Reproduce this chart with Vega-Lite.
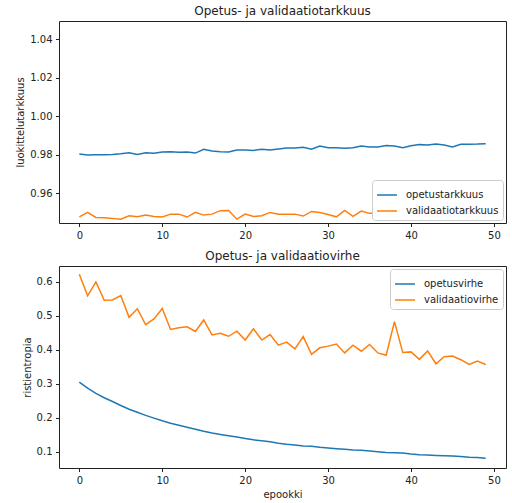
{
  "$schema": "https://vega.github.io/schema/vega-lite/v6.json",
  "padding": {"left": 15, "top": 4, "right": 5, "bottom": 2},
  "spacing": 8,
  "datasets": {
    "acc": [
      {"epookki":0,"sarja":"opetustarkkuus","arvo":0.9804},{"epookki":1,"sarja":"opetustarkkuus","arvo":0.9799},{"epookki":2,"sarja":"opetustarkkuus","arvo":0.9801},{"epookki":3,"sarja":"opetustarkkuus","arvo":0.9801},{"epookki":4,"sarja":"opetustarkkuus","arvo":0.9802},{"epookki":5,"sarja":"opetustarkkuus","arvo":0.9806},{"epookki":6,"sarja":"opetustarkkuus","arvo":0.9811},{"epookki":7,"sarja":"opetustarkkuus","arvo":0.9802},{"epookki":8,"sarja":"opetustarkkuus","arvo":0.9811},{"epookki":9,"sarja":"opetustarkkuus","arvo":0.9808},
      {"epookki":10,"sarja":"opetustarkkuus","arvo":0.9815},{"epookki":11,"sarja":"opetustarkkuus","arvo":0.9816},{"epookki":12,"sarja":"opetustarkkuus","arvo":0.9813},{"epookki":13,"sarja":"opetustarkkuus","arvo":0.9815},{"epookki":14,"sarja":"opetustarkkuus","arvo":0.9809},{"epookki":15,"sarja":"opetustarkkuus","arvo":0.9829},{"epookki":16,"sarja":"opetustarkkuus","arvo":0.9820},{"epookki":17,"sarja":"opetustarkkuus","arvo":0.9816},{"epookki":18,"sarja":"opetustarkkuus","arvo":0.9815},{"epookki":19,"sarja":"opetustarkkuus","arvo":0.9825},
      {"epookki":20,"sarja":"opetustarkkuus","arvo":0.9825},{"epookki":21,"sarja":"opetustarkkuus","arvo":0.9823},{"epookki":22,"sarja":"opetustarkkuus","arvo":0.9829},{"epookki":23,"sarja":"opetustarkkuus","arvo":0.9825},{"epookki":24,"sarja":"opetustarkkuus","arvo":0.9830},{"epookki":25,"sarja":"opetustarkkuus","arvo":0.9835},{"epookki":26,"sarja":"opetustarkkuus","arvo":0.9835},{"epookki":27,"sarja":"opetustarkkuus","arvo":0.9839},{"epookki":28,"sarja":"opetustarkkuus","arvo":0.9829},{"epookki":29,"sarja":"opetustarkkuus","arvo":0.9846},
      {"epookki":30,"sarja":"opetustarkkuus","arvo":0.9837},{"epookki":31,"sarja":"opetustarkkuus","arvo":0.9837},{"epookki":32,"sarja":"opetustarkkuus","arvo":0.9834},{"epookki":33,"sarja":"opetustarkkuus","arvo":0.9837},{"epookki":34,"sarja":"opetustarkkuus","arvo":0.9846},{"epookki":35,"sarja":"opetustarkkuus","arvo":0.9841},{"epookki":36,"sarja":"opetustarkkuus","arvo":0.9841},{"epookki":37,"sarja":"opetustarkkuus","arvo":0.9849},{"epookki":38,"sarja":"opetustarkkuus","arvo":0.9846},{"epookki":39,"sarja":"opetustarkkuus","arvo":0.9837},
      {"epookki":40,"sarja":"opetustarkkuus","arvo":0.9847},{"epookki":41,"sarja":"opetustarkkuus","arvo":0.9853},{"epookki":42,"sarja":"opetustarkkuus","arvo":0.9851},{"epookki":43,"sarja":"opetustarkkuus","arvo":0.9856},{"epookki":44,"sarja":"opetustarkkuus","arvo":0.9851},{"epookki":45,"sarja":"opetustarkkuus","arvo":0.9841},{"epookki":46,"sarja":"opetustarkkuus","arvo":0.9855},{"epookki":47,"sarja":"opetustarkkuus","arvo":0.9855},{"epookki":48,"sarja":"opetustarkkuus","arvo":0.9856},{"epookki":49,"sarja":"opetustarkkuus","arvo":0.9858},
      {"epookki":0,"sarja":"validaatiotarkkuus","arvo":0.9478},{"epookki":1,"sarja":"validaatiotarkkuus","arvo":0.9501},{"epookki":2,"sarja":"validaatiotarkkuus","arvo":0.9475},{"epookki":3,"sarja":"validaatiotarkkuus","arvo":0.9473},{"epookki":4,"sarja":"validaatiotarkkuus","arvo":0.9470},{"epookki":5,"sarja":"validaatiotarkkuus","arvo":0.9466},{"epookki":6,"sarja":"validaatiotarkkuus","arvo":0.9484},{"epookki":7,"sarja":"validaatiotarkkuus","arvo":0.9478},{"epookki":8,"sarja":"validaatiotarkkuus","arvo":0.9487},{"epookki":9,"sarja":"validaatiotarkkuus","arvo":0.9480},
      {"epookki":10,"sarja":"validaatiotarkkuus","arvo":0.9477},{"epookki":11,"sarja":"validaatiotarkkuus","arvo":0.9492},{"epookki":12,"sarja":"validaatiotarkkuus","arvo":0.9492},{"epookki":13,"sarja":"validaatiotarkkuus","arvo":0.9477},{"epookki":14,"sarja":"validaatiotarkkuus","arvo":0.9501},{"epookki":15,"sarja":"validaatiotarkkuus","arvo":0.9487},{"epookki":16,"sarja":"validaatiotarkkuus","arvo":0.9492},{"epookki":17,"sarja":"validaatiotarkkuus","arvo":0.9510},{"epookki":18,"sarja":"validaatiotarkkuus","arvo":0.9511},{"epookki":19,"sarja":"validaatiotarkkuus","arvo":0.9466},
      {"epookki":20,"sarja":"validaatiotarkkuus","arvo":0.9492},{"epookki":21,"sarja":"validaatiotarkkuus","arvo":0.9480},{"epookki":22,"sarja":"validaatiotarkkuus","arvo":0.9484},{"epookki":23,"sarja":"validaatiotarkkuus","arvo":0.9501},{"epookki":24,"sarja":"validaatiotarkkuus","arvo":0.9492},{"epookki":25,"sarja":"validaatiotarkkuus","arvo":0.9491},{"epookki":26,"sarja":"validaatiotarkkuus","arvo":0.9492},{"epookki":27,"sarja":"validaatiotarkkuus","arvo":0.9482},{"epookki":28,"sarja":"validaatiotarkkuus","arvo":0.9506},{"epookki":29,"sarja":"validaatiotarkkuus","arvo":0.9500},
      {"epookki":30,"sarja":"validaatiotarkkuus","arvo":0.9490},{"epookki":31,"sarja":"validaatiotarkkuus","arvo":0.9478},{"epookki":32,"sarja":"validaatiotarkkuus","arvo":0.9511},{"epookki":33,"sarja":"validaatiotarkkuus","arvo":0.9480},{"epookki":34,"sarja":"validaatiotarkkuus","arvo":0.9508},{"epookki":35,"sarja":"validaatiotarkkuus","arvo":0.9496},{"epookki":36,"sarja":"validaatiotarkkuus","arvo":0.9496},{"epookki":37,"sarja":"validaatiotarkkuus","arvo":0.9501},{"epookki":38,"sarja":"validaatiotarkkuus","arvo":0.9478},{"epookki":39,"sarja":"validaatiotarkkuus","arvo":0.9490},
      {"epookki":40,"sarja":"validaatiotarkkuus","arvo":0.9492},{"epookki":41,"sarja":"validaatiotarkkuus","arvo":0.9488},{"epookki":42,"sarja":"validaatiotarkkuus","arvo":0.9495},{"epookki":43,"sarja":"validaatiotarkkuus","arvo":0.9490},{"epookki":44,"sarja":"validaatiotarkkuus","arvo":0.9498},{"epookki":45,"sarja":"validaatiotarkkuus","arvo":0.9485},{"epookki":46,"sarja":"validaatiotarkkuus","arvo":0.9492},{"epookki":47,"sarja":"validaatiotarkkuus","arvo":0.9495},{"epookki":48,"sarja":"validaatiotarkkuus","arvo":0.9500},{"epookki":49,"sarja":"validaatiotarkkuus","arvo":0.9493}
    ],
    "loss": [
      {"epookki":0,"sarja":"opetusvirhe","arvo":0.305},{"epookki":1,"sarja":"opetusvirhe","arvo":0.287},{"epookki":2,"sarja":"opetusvirhe","arvo":0.272},{"epookki":3,"sarja":"opetusvirhe","arvo":0.259},{"epookki":4,"sarja":"opetusvirhe","arvo":0.248},{"epookki":5,"sarja":"opetusvirhe","arvo":0.236},{"epookki":6,"sarja":"opetusvirhe","arvo":0.225},{"epookki":7,"sarja":"opetusvirhe","arvo":0.216},{"epookki":8,"sarja":"opetusvirhe","arvo":0.207},{"epookki":9,"sarja":"opetusvirhe","arvo":0.199},
      {"epookki":10,"sarja":"opetusvirhe","arvo":0.191},{"epookki":11,"sarja":"opetusvirhe","arvo":0.184},{"epookki":12,"sarja":"opetusvirhe","arvo":0.178},{"epookki":13,"sarja":"opetusvirhe","arvo":0.172},{"epookki":14,"sarja":"opetusvirhe","arvo":0.166},{"epookki":15,"sarja":"opetusvirhe","arvo":0.160},{"epookki":16,"sarja":"opetusvirhe","arvo":0.155},{"epookki":17,"sarja":"opetusvirhe","arvo":0.151},{"epookki":18,"sarja":"opetusvirhe","arvo":0.147},{"epookki":19,"sarja":"opetusvirhe","arvo":0.143},
      {"epookki":20,"sarja":"opetusvirhe","arvo":0.139},{"epookki":21,"sarja":"opetusvirhe","arvo":0.135},{"epookki":22,"sarja":"opetusvirhe","arvo":0.132},{"epookki":23,"sarja":"opetusvirhe","arvo":0.129},{"epookki":24,"sarja":"opetusvirhe","arvo":0.125},{"epookki":25,"sarja":"opetusvirhe","arvo":0.122},{"epookki":26,"sarja":"opetusvirhe","arvo":0.120},{"epookki":27,"sarja":"opetusvirhe","arvo":0.117},{"epookki":28,"sarja":"opetusvirhe","arvo":0.116},{"epookki":29,"sarja":"opetusvirhe","arvo":0.113},
      {"epookki":30,"sarja":"opetusvirhe","arvo":0.111},{"epookki":31,"sarja":"opetusvirhe","arvo":0.109},{"epookki":32,"sarja":"opetusvirhe","arvo":0.107},{"epookki":33,"sarja":"opetusvirhe","arvo":0.105},{"epookki":34,"sarja":"opetusvirhe","arvo":0.104},{"epookki":35,"sarja":"opetusvirhe","arvo":0.102},{"epookki":36,"sarja":"opetusvirhe","arvo":0.100},{"epookki":37,"sarja":"opetusvirhe","arvo":0.098},{"epookki":38,"sarja":"opetusvirhe","arvo":0.097},{"epookki":39,"sarja":"opetusvirhe","arvo":0.096},
      {"epookki":40,"sarja":"opetusvirhe","arvo":0.093},{"epookki":41,"sarja":"opetusvirhe","arvo":0.091},{"epookki":42,"sarja":"opetusvirhe","arvo":0.090},{"epookki":43,"sarja":"opetusvirhe","arvo":0.089},{"epookki":44,"sarja":"opetusvirhe","arvo":0.088},{"epookki":45,"sarja":"opetusvirhe","arvo":0.087},{"epookki":46,"sarja":"opetusvirhe","arvo":0.086},{"epookki":47,"sarja":"opetusvirhe","arvo":0.084},{"epookki":48,"sarja":"opetusvirhe","arvo":0.083},{"epookki":49,"sarja":"opetusvirhe","arvo":0.081},
      {"epookki":0,"sarja":"validaatiovirhe","arvo":0.623},{"epookki":1,"sarja":"validaatiovirhe","arvo":0.559},{"epookki":2,"sarja":"validaatiovirhe","arvo":0.600},{"epookki":3,"sarja":"validaatiovirhe","arvo":0.546},{"epookki":4,"sarja":"validaatiovirhe","arvo":0.547},{"epookki":5,"sarja":"validaatiovirhe","arvo":0.560},{"epookki":6,"sarja":"validaatiovirhe","arvo":0.496},{"epookki":7,"sarja":"validaatiovirhe","arvo":0.521},{"epookki":8,"sarja":"validaatiovirhe","arvo":0.474},{"epookki":9,"sarja":"validaatiovirhe","arvo":0.491},
      {"epookki":10,"sarja":"validaatiovirhe","arvo":0.522},{"epookki":11,"sarja":"validaatiovirhe","arvo":0.460},{"epookki":12,"sarja":"validaatiovirhe","arvo":0.465},{"epookki":13,"sarja":"validaatiovirhe","arvo":0.468},{"epookki":14,"sarja":"validaatiovirhe","arvo":0.454},{"epookki":15,"sarja":"validaatiovirhe","arvo":0.488},{"epookki":16,"sarja":"validaatiovirhe","arvo":0.444},{"epookki":17,"sarja":"validaatiovirhe","arvo":0.449},{"epookki":18,"sarja":"validaatiovirhe","arvo":0.440},{"epookki":19,"sarja":"validaatiovirhe","arvo":0.455},
      {"epookki":20,"sarja":"validaatiovirhe","arvo":0.429},{"epookki":21,"sarja":"validaatiovirhe","arvo":0.462},{"epookki":22,"sarja":"validaatiovirhe","arvo":0.429},{"epookki":23,"sarja":"validaatiovirhe","arvo":0.445},{"epookki":24,"sarja":"validaatiovirhe","arvo":0.414},{"epookki":25,"sarja":"validaatiovirhe","arvo":0.423},{"epookki":26,"sarja":"validaatiovirhe","arvo":0.403},{"epookki":27,"sarja":"validaatiovirhe","arvo":0.439},{"epookki":28,"sarja":"validaatiovirhe","arvo":0.387},{"epookki":29,"sarja":"validaatiovirhe","arvo":0.406},
      {"epookki":30,"sarja":"validaatiovirhe","arvo":0.411},{"epookki":31,"sarja":"validaatiovirhe","arvo":0.417},{"epookki":32,"sarja":"validaatiovirhe","arvo":0.391},{"epookki":33,"sarja":"validaatiovirhe","arvo":0.414},{"epookki":34,"sarja":"validaatiovirhe","arvo":0.396},{"epookki":35,"sarja":"validaatiovirhe","arvo":0.416},{"epookki":36,"sarja":"validaatiovirhe","arvo":0.391},{"epookki":37,"sarja":"validaatiovirhe","arvo":0.384},{"epookki":38,"sarja":"validaatiovirhe","arvo":0.483},{"epookki":39,"sarja":"validaatiovirhe","arvo":0.392},
      {"epookki":40,"sarja":"validaatiovirhe","arvo":0.394},{"epookki":41,"sarja":"validaatiovirhe","arvo":0.372},{"epookki":42,"sarja":"validaatiovirhe","arvo":0.397},{"epookki":43,"sarja":"validaatiovirhe","arvo":0.359},{"epookki":44,"sarja":"validaatiovirhe","arvo":0.380},{"epookki":45,"sarja":"validaatiovirhe","arvo":0.382},{"epookki":46,"sarja":"validaatiovirhe","arvo":0.371},{"epookki":47,"sarja":"validaatiovirhe","arvo":0.357},{"epookki":48,"sarja":"validaatiovirhe","arvo":0.367},{"epookki":49,"sarja":"validaatiovirhe","arvo":0.357}
    ]
  },
  "vconcat": [
    {
      "title": "Opetus- ja validaatiotarkkuus",
      "width": 447,
      "height": 202,
      "data": {"name": "acc"},
      "mark": {"type": "line", "strokeWidth": 1.5, "clip": true},
      "encoding": {
        "x": {"field": "epookki", "type": "quantitative", "scale": {"domain": [-2.45, 51.45], "nice": false, "zero": false}, "axis": {"values": [0, 10, 20, 30, 40, 50], "title": null}},
        "y": {"field": "arvo", "type": "quantitative", "scale": {"domain": [0.9446, 1.0495], "nice": false, "zero": false}, "axis": {"values": [0.96, 0.98, 1.0, 1.02, 1.04], "format": ".2f", "title": "luokittelutarkkuus"}},
        "color": {"field": "sarja", "type": "nominal", "scale": {"domain": ["opetustarkkuus", "validaatiotarkkuus"], "range": ["#1f77b4", "#ff7f0e"]}, "legend": {"orient": "bottom-right", "title": null}}
      }
    },
    {
      "title": "Opetus- ja validaatiovirhe",
      "width": 447,
      "height": 202,
      "data": {"name": "loss"},
      "mark": {"type": "line", "strokeWidth": 1.5, "clip": true},
      "encoding": {
        "x": {"field": "epookki", "type": "quantitative", "scale": {"domain": [-2.45, 51.45], "nice": false, "zero": false}, "axis": {"values": [0, 10, 20, 30, 40, 50], "title": "epookki"}},
        "y": {"field": "arvo", "type": "quantitative", "scale": {"domain": [0.052, 0.647], "nice": false, "zero": false}, "axis": {"values": [0.1, 0.2, 0.3, 0.4, 0.5, 0.6], "format": ".1f", "title": "ristientropia"}},
        "color": {"field": "sarja", "type": "nominal", "scale": {"domain": ["opetusvirhe", "validaatiovirhe"], "range": ["#1f77b4", "#ff7f0e"]}, "legend": {"orient": "top-right", "title": null}}
      }
    }
  ],
  "resolve": {"scale": {"color": "independent"}, "legend": {"color": "independent"}},
  "config": {
    "font": "DejaVu Sans",
    "view": {"stroke": "#222", "strokeWidth": 1},
    "axis": {"grid": false, "domain": false, "tickColor": "#222", "tickSize": 3.5, "labelFontSize": 10, "labelColor": "#222", "labelPadding": 3.5, "titleFontSize": 10, "titleFontWeight": "normal", "titleColor": "#222", "titlePadding": 4},
    "title": {"fontSize": 12, "fontWeight": "normal", "color": "#222", "offset": 3},
    "legend": {"symbolType": "stroke", "symbolSize": 400, "symbolStrokeWidth": 1.5, "labelFontSize": 10, "labelColor": "#222", "fillColor": "white", "strokeColor": "#ccc", "cornerRadius": 3, "padding": 4, "offset": 3, "rowPadding": -5, "labelOffset": 8}
  }
}
